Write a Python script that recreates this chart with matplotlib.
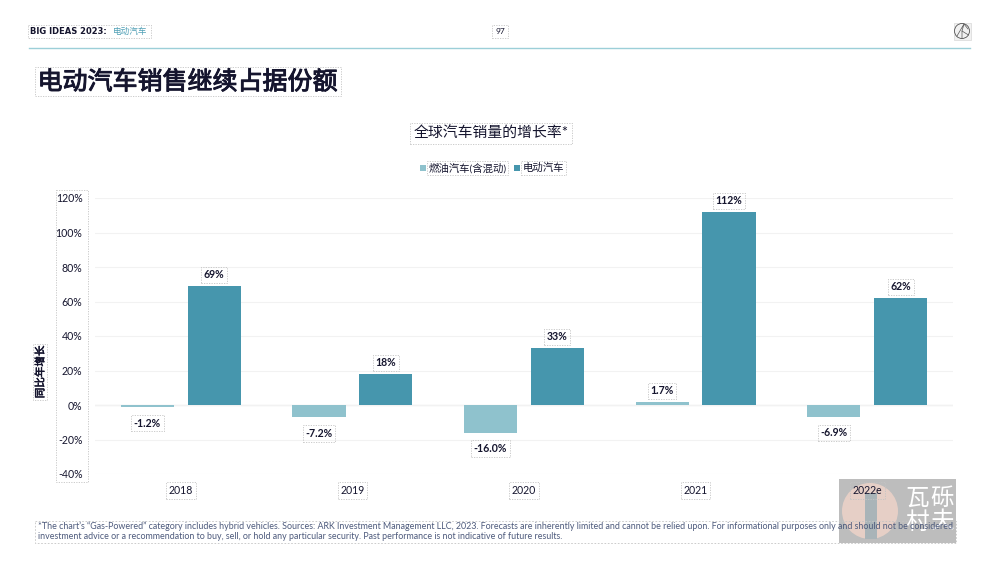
import matplotlib

matplotlib.use("Agg")

import matplotlib.patheffects as pe
import matplotlib.pyplot as plt
import numpy as np
from matplotlib.patches import Circle, Rectangle


YEARS = ["2018", "2019", "2020", "2021", "2022e"]
GAS_GROWTH = [-1.2, -7.2, -16.0, 1.7, -6.9]
EV_GROWTH = [69, 18, 33, 112, 62]
GAS_LABELS = ["-1.2%", "-7.2%", "-16.0%", "1.7%", "-6.9%"]
EV_LABELS = ["69%", "18%", "33%", "112%", "62%"]
Y_TICKS = [-40, -20, 0, 20, 40, 60, 80, 100, 120]

GAS_NAME = "燃油汽车(含混动)"
EV_NAME = "电动汽车"

FOOTNOTE = [
    "*The chart’s “Gas-Powered” category includes hybrid vehicles. Sources: ARK Investment Management LLC, 2023. "
    "Forecasts are inherently limited and cannot be relied upon. For informational purposes only and should not be considered",
    "investment advice or a recommendation to buy, sell, or hold any particular security. "
    "Past performance is not indicative of future results.",
]

GAS_COLOR = "#8fc2cd"
EV_COLOR = "#4696ad"
DARK = "#15152e"
FOOT_COLOR = "#4d5a7c"
BOX_COLOR = "#c4c4c4"

plt.rcParams["font.family"] = ["Lato", "Noto Sans CJK SC", "DejaVu Sans"]


def dashed_box(pad=0.18):
    return dict(boxstyle=f"square,pad={pad}", fc="none", ec=BOX_COLOR, ls=(0, (1.5, 1.5)), lw=0.6)


fig = plt.figure(figsize=(10, 5.62), dpi=100)

# overlay in pixel coordinates for the page furniture
page = fig.add_axes([0, 0, 1, 1], zorder=0)
page.set_xlim(0, 1000)
page.set_ylim(562, 0)
page.axis("off")

page.plot([29, 970], [48, 48], color="#9ccfd8", lw=1)
page.text(30.5, 32, "BIG IDEAS 2023:", family="DejaVu Sans", fontsize=6, fontweight="bold",
          color=DARK, va="center")
page.text(113, 31.5, "电动汽车", fontsize=6.2, color="#4f9fb5", va="center")
page.add_patch(Rectangle((27.5, 25), 123, 13, fc="none", ec=BOX_COLOR, ls=(0, (1.5, 1.5)), lw=0.6))
page.text(500, 31.5, "97", fontsize=6, color=DARK, ha="center", va="center", bbox=dashed_box(0.4))

# logo
page.add_patch(Rectangle((953.5, 22.5), 17, 17, fc="#f1f1f1", ec="#d8d8d8", lw=0.5))
page.add_patch(Circle((962, 31), 7.5, fc="none", ec="#555555", lw=0.6))
page.plot([957, 964, 962, 962], [36, 24, 31, 38.5], color="#555555", lw=0.5)
page.plot([962, 968.5], [31, 35], color="#555555", lw=0.5)
page.plot([964, 968], [24, 29], color="#555555", lw=0.5)

title = page.text(37.5, 81.5, "电动汽车销售继续占据份额", fontsize=18, color=DARK, va="center",
                  bbox=dashed_box(0.12))
title.set_path_effects([pe.withStroke(linewidth=0.7, foreground=DARK)])
page.text(491, 133.5, "全球汽车销量的增长率*", fontsize=10.7, color=DARK, ha="center", va="center",
          bbox=dashed_box(0.22))

# legend
page.add_patch(Rectangle((419.5, 164.5), 6.5, 6.5, fc=GAS_COLOR, ec="none"))
page.add_patch(Rectangle((513.5, 164.5), 6.5, 6.5, fc=EV_COLOR, ec="none"))
page.text(428.5, 168, GAS_NAME, fontsize=7.5, color=DARK, va="center", bbox=dashed_box(0.15))
page.text(522.5, 168, EV_NAME, fontsize=7.5, color=DARK, va="center", bbox=dashed_box(0.15))

ylabel = page.text(40, 372, "同比年增长", fontsize=7.6, color=DARK, rotation=90,
                   ha="center", va="center", bbox=dashed_box(0.15))
ylabel.set_path_effects([pe.withStroke(linewidth=0.4, foreground=DARK)])
page.add_patch(Rectangle((56, 190), 32, 292, fc="none", ec=BOX_COLOR, ls=(0, (1.5, 1.5)), lw=0.6))

# watermark sits under the chart but over the page
mark = fig.add_axes([0, 0, 1, 1], zorder=1)
mark.set_xlim(0, 1000)
mark.set_ylim(562, 0)
mark.axis("off")
mark.add_patch(Rectangle((839, 479), 117, 64, fc="#bdbdbd", ec="none"))
mark.add_patch(Circle((870, 511), 28, fc="#e6cfc6", ec="none"))
mark.add_patch(Rectangle((865, 493), 12, 46, fc="#a9b4b8", ec="none"))
mark.text(917, 498.5, "瓦", fontsize=17, fontweight="light", color="white", ha="center", va="center")
mark.text(942, 498.5, "砾", fontsize=17, fontweight="light", color="white", ha="center", va="center")
mark.text(917, 522, "村", fontsize=17, fontweight="light", color="white", ha="center", va="center")
mark.text(942, 522, "夫", fontsize=17, fontweight="light", color="white", ha="center", va="center")

# footnote goes over the watermark
mark.add_patch(Rectangle((35, 520.5), 921, 22, fc="none", ec=BOX_COLOR, ls=(0, (2, 2)), lw=0.6))
mark.text(37.5, 526, FOOTNOTE[0], fontsize=6.4, color=FOOT_COLOR, va="center")
mark.text(37.5, 536.5, FOOTNOTE[1], fontsize=6.4, color=FOOT_COLOR, va="center")

# chart
ax = fig.add_axes([95 / 1000, 1 - 474 / 562, 858 / 1000, 276 / 562], zorder=2)
ax.patch.set_alpha(0)
x = np.arange(len(YEARS))
offset = 0.195
width = 0.31
ax.bar(x - offset, GAS_GROWTH, width, color=GAS_COLOR, zorder=3)
ax.bar(x + offset, EV_GROWTH, width, color=EV_COLOR, zorder=3)

for i in range(len(YEARS)):
    gas_up = GAS_GROWTH[i] >= 0
    ax.annotate(GAS_LABELS[i], (x[i] - offset, GAS_GROWTH[i]), xytext=(0, 8 if gas_up else -11.5),
                textcoords="offset points", ha="center", va="center", fontsize=7.6, fontweight="bold",
                color=DARK, bbox=dashed_box(0.25), zorder=4)
    ax.annotate(EV_LABELS[i], (x[i] + offset, EV_GROWTH[i]), xytext=(0, 8),
                textcoords="offset points", ha="center", va="center", fontsize=7.6, fontweight="bold",
                color=DARK, bbox=dashed_box(0.25), zorder=4)

ax.set_xlim(-0.5, len(YEARS) - 0.5)
ax.set_ylim(-40, 120)
ax.set_yticks(Y_TICKS)
ax.set_yticklabels([f"{v}%" for v in Y_TICKS], fontsize=7.6, color=DARK)
ax.set_xticks(x)
ax.set_xticklabels(YEARS, fontsize=7.6, color=DARK, bbox=dashed_box(0.25))
ax.tick_params(axis="both", length=0)
ax.tick_params(axis="x", pad=8)
ax.tick_params(axis="y", pad=9)
ax.grid(axis="y", color="#f2f2f2", lw=0.8, zorder=0)
ax.axhline(0, color="#e2e2e2", lw=0.9, zorder=1)
for spine in ax.spines.values():
    spine.set_visible(False)

fig.savefig("out.png", dpi=100)
